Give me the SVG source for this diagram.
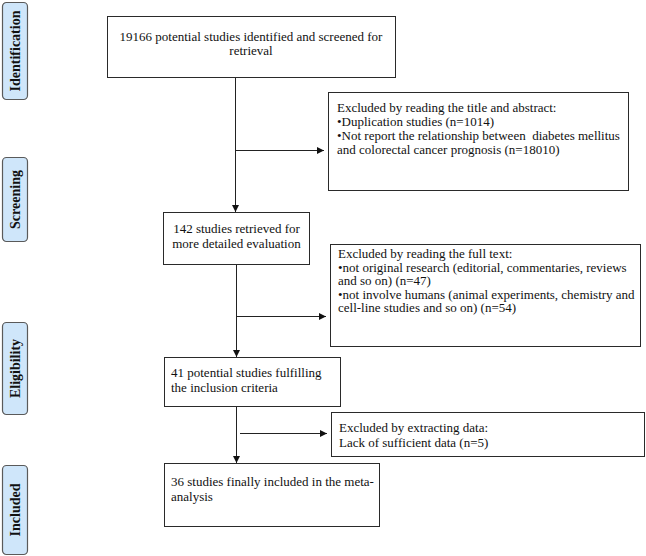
<svg xmlns="http://www.w3.org/2000/svg" width="646" height="556" viewBox="0 0 646 556">
<style>
  .box { fill: #ffffff; stroke: #2a2a2a; stroke-width: 1; }
  .lab { fill: #cfe6fa; stroke: #5a5a5a; stroke-width: 1.2; }
  .t { font-family: "Liberation Serif", "Times New Roman", serif; font-size: 13px; fill: #111; }
  .c { text-anchor: middle; }
  .lt { font-family: "Liberation Serif", "Times New Roman", serif; font-size: 14px; font-weight: bold; fill: #111; text-anchor: middle; dominant-baseline: central; }
  .ln { stroke: #222; stroke-width: 1; fill: none; }
</style>
<defs>
  <marker id="ah" viewBox="0 0 10 10" refX="10" refY="5" markerWidth="7" markerHeight="7" markerUnits="userSpaceOnUse" orient="auto">
    <path d="M0,0 L10,5 L0,10 z" fill="#111"/>
  </marker>
</defs>
<rect width="646" height="556" fill="#ffffff"/>

<g id="label-identification">
  <rect class="lab" x="2.5" y="2.5" width="25" height="97" rx="4"/>
  <text class="lt" transform="translate(15,51) rotate(-90)">Identification</text>
</g>
<g id="label-screening">
  <rect class="lab" x="2.5" y="157.5" width="25" height="84" rx="4"/>
  <text class="lt" transform="translate(15,199.5) rotate(-90)">Screening</text>
</g>
<g id="label-eligibility">
  <rect class="lab" x="2.5" y="322.5" width="25" height="92" rx="4"/>
  <text class="lt" transform="translate(15,368.5) rotate(-90)">Eligibility</text>
</g>
<g id="label-included">
  <rect class="lab" x="2.5" y="465.5" width="25" height="89" rx="4"/>
  <text class="lt" transform="translate(15,510) rotate(-90)">Included</text>
</g>

<g id="connectors">
  <line class="ln" x1="235.5" y1="77" x2="235.5" y2="212" marker-end="url(#ah)"/>
  <line class="ln" x1="235.5" y1="150.5" x2="324" y2="150.5" marker-end="url(#ah)"/>
  <line class="ln" x1="236.5" y1="265" x2="236.5" y2="357" marker-end="url(#ah)"/>
  <line class="ln" x1="237" y1="316.5" x2="326" y2="316.5" marker-end="url(#ah)"/>
  <line class="ln" x1="236.5" y1="407" x2="236.5" y2="463" marker-end="url(#ah)"/>
  <line class="ln" x1="240" y1="433.5" x2="327" y2="433.5" marker-end="url(#ah)"/>
</g>

<g id="node-identified">
  <rect class="box" x="107.5" y="16.5" width="288" height="61"/>
  <text class="t c" x="251" y="41">19166 potential studies identified and screened for</text>
  <text class="t c" x="251" y="55">retrieval</text>
</g>
<g id="node-excluded-title">
  <rect class="box" x="328.5" y="92.5" width="300" height="98"/>
  <text class="t" x="337" y="112">Excluded by reading the title and abstract:</text>
  <text class="t" x="337" y="126">•Duplication studies (n=1014)</text>
  <text class="t" x="337" y="140" xml:space="preserve">•Not report the relationship between  diabetes mellitus</text>
  <text class="t" x="337" y="154">and colorectal cancer prognosis (n=18010)</text>
</g>
<g id="node-retrieved">
  <rect class="box" x="163.5" y="212.5" width="146" height="52"/>
  <text class="t c" x="236.5" y="233">142 studies retrieved for</text>
  <text class="t c" x="236.5" y="248">more detailed evaluation</text>
</g>
<g id="node-excluded-fulltext">
  <rect class="box" x="330.5" y="244.5" width="310" height="102"/>
  <text class="t" x="338" y="258">Excluded by reading the full text:</text>
  <text class="t" x="338" y="271.5">•not original research (editorial, commentaries, reviews</text>
  <text class="t" x="338" y="285">and so on) (n=47)</text>
  <text class="t" x="338" y="298.5">•not involve humans (animal experiments, chemistry and</text>
  <text class="t" x="338" y="312">cell-line studies and so on) (n=54)</text>
</g>
<g id="node-eligible">
  <rect class="box" x="164.5" y="357.5" width="176" height="49"/>
  <text class="t" x="171" y="377">41 potential studies fulfilling</text>
  <text class="t" x="171" y="392">the inclusion criteria</text>
</g>
<g id="node-excluded-data">
  <rect class="box" x="331.5" y="412.5" width="313" height="44"/>
  <text class="t" x="339" y="432">Excluded by extracting data:</text>
  <text class="t" x="339" y="447">Lack of sufficient data (n=5)</text>
</g>
<g id="node-included">
  <rect class="box" x="164.5" y="463.5" width="215" height="63"/>
  <text class="t" x="171" y="486">36 studies finally included in the meta-</text>
  <text class="t" x="171" y="501">analysis</text>
</g>
</svg>
